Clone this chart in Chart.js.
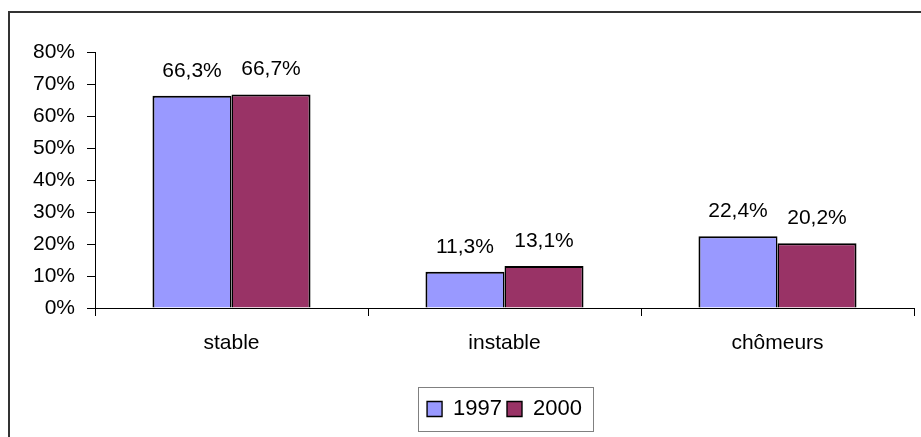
<!DOCTYPE html>
<html>
<head>
<meta charset="utf-8">
<script src="https://cdn.jsdelivr.net/npm/chart.js@4/dist/chart.umd.min.js"></script>
<style>
  html, body { margin: 0; padding: 0; background: #fff; }
  #wrap { width: 921px; height: 437px; position: relative; }
</style>
</head>
<body>
<div id="wrap"><canvas id="chart" width="921" height="437"></canvas></div>
<script>
const categories = ['stable', 'instable', 'chômeurs'];
const seriesNames = ['1997', '2000'];
const values1997 = [66.3, 11.3, 22.4];
const values2000 = [66.7, 13.1, 20.2];
const yTickValues = [0, 10, 20, 30, 40, 50, 60, 70, 80];

const FONT = 'Liberation Sans, Arial, sans-serif';

const formatPct = (v) => v.toFixed(1).replace('.', ',') + '%';

// outer frame (top + left edges only, as in the picture)
const framePlugin = {
    id: 'frame',
    beforeDraw(chart) {
        const ctx = chart.ctx;
        ctx.save();
        ctx.fillStyle = '#fff';
        ctx.fillRect(0, 0, chart.width, chart.height);
        ctx.strokeStyle = '#333';
        ctx.lineWidth = 2;
        ctx.beginPath();
        ctx.moveTo(9, chart.height);
        ctx.lineTo(9, 12);
        ctx.lineTo(chart.width, 12);
        ctx.stroke();
        ctx.restore();
    }
};

// value labels above each bar
const valueLabels = {
    id: 'valueLabels',
    afterDatasetsDraw(chart) {
        const ctx = chart.ctx;
        ctx.save();
        ctx.font = '21px ' + FONT;
        ctx.fillStyle = '#000';
        ctx.textAlign = 'center';
        ctx.textBaseline = 'middle';
        chart.data.datasets.forEach((ds, i) => {
            chart.getDatasetMeta(i).data.forEach((bar, j) => {
                ctx.fillText(formatPct(ds.data[j]), bar.x, bar.y - 25);
            });
        });
        ctx.restore();
    }
};

// grey box around the legend
const legendBox = {
    id: 'legendBox',
    afterDraw(chart) {
        const boxes = chart.legend && chart.legend.legendHitBoxes;
        if (!boxes || !boxes.length) return;
        const left = Math.min(...boxes.map(b => b.left));
        const right = Math.max(...boxes.map(b => b.left + b.width));
        const mid = boxes[0].top + boxes[0].height / 2;
        const ctx = chart.ctx;
        ctx.save();
        ctx.strokeStyle = '#808080';
        ctx.lineWidth = 1;
        ctx.strokeRect(Math.round(left - 9) + 0.5, Math.round(mid - 22) + 0.5,
            Math.round(right - left + 20), 44);
        ctx.restore();
    }
};

const ctx = document.getElementById('chart').getContext('2d');
new Chart(ctx, {
    type: 'bar',
    data: {
        labels: categories,
        datasets: [{
            label: seriesNames[0],
            data: values1997,
            backgroundColor: '#9999FF',
            borderColor: '#000',
            borderWidth: { left: 2, top: 2, right: 1.5, bottom: 0 },
            borderSkipped: false,
            barPercentage: 1,
            categoryPercentage: 0.579,
        }, {
            label: seriesNames[1],
            data: values2000,
            backgroundColor: '#993366',
            borderColor: '#000',
            borderWidth: { left: 1.5, top: 2, right: 2, bottom: 0 },
            borderSkipped: false,
            barPercentage: 1,
            categoryPercentage: 0.579,
        }],
    },
    options: {
        responsive: false,
        animation: false,
        layout: {
            padding: { top: 52, right: 7, bottom: 7, left: 0 },
        },
        plugins: {
            tooltip: { enabled: false },
            legend: {
                position: 'bottom',
                fullSize: false,
                labels: {
                    font: { family: FONT, size: 22 },
                    color: '#000',
                    boxWidth: 15,
                    boxHeight: 15,
                    padding: 5,
                },
            },
        },
        scales: {
            x: {
                grid: {
                    drawOnChartArea: false,
                    drawTicks: true,
                    tickLength: 8,
                    color: '#000',
                    offset: true,
                },
                border: { display: true, color: '#000', width: 1 },
                ticks: {
                    font: { family: FONT, size: 21 },
                    color: '#000',
                    padding: 15,
                    maxRotation: 0,
                },
                afterFit(axis) { axis.height = 85; },
            },
            y: {
                min: 0,
                max: 80,
                grid: {
                    drawOnChartArea: false,
                    drawTicks: true,
                    tickLength: 8,
                    color: '#000',
                },
                border: { display: true, color: '#000', width: 1 },
                afterBuildTicks(axis) {
                    axis.ticks = yTickValues.map(v => ({ value: v }));
                },
                ticks: {
                    font: { family: FONT, size: 21 },
                    color: '#000',
                    padding: 12,
                    callback: (v) => v + '%',
                },
                afterFit(axis) { axis.width = 95; },
            },
        },
    },
    plugins: [framePlugin, valueLabels, legendBox],
});
</script>
</body>
</html>
